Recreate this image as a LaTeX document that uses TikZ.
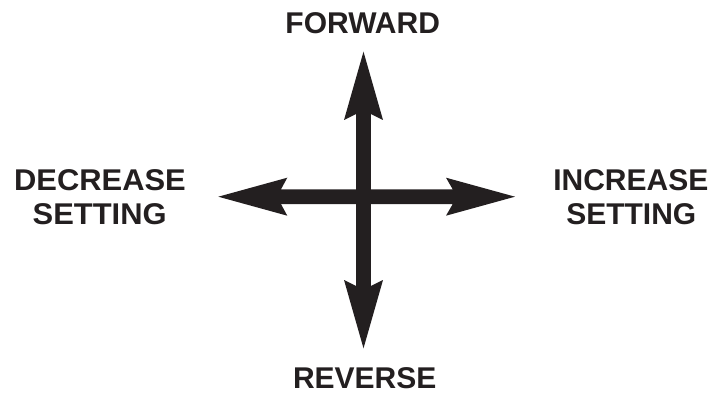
\documentclass[tikz,border=0pt]{standalone}
\usepackage{fontspec}
\setmainfont{Liberation Sans}
\definecolor{ink}{RGB}{35,31,32}
\begin{document}
\begin{tikzpicture}[x=1pt,y=-1pt,
  lbl/.style={font=\fontsize{30}{34}\selectfont\bfseries, text=ink, inner sep=0pt, anchor=base},
  crossfill/.style={fill=ink, draw=none}]
\useasboundingbox (0,0) rectangle (715,393);
% cross with four arrowheads
\fill[crossfill]
  (363.5,51.7) -- (383,120) -- (370.9,114) -- (370.9,189.3)
  -- (452.7,189.3) -- (446,177.7) -- (515,196.7) -- (446,215.7) -- (452.7,204.1)
  -- (370.9,204.1) -- (370.9,286) -- (383,280) -- (363.5,348.3) -- (344,280) -- (356.1,286)
  -- (356.1,204.1) -- (281,204.1) -- (287.3,215.7) -- (218.3,196.7) -- (287.3,177.7) -- (281,189.3)
  -- (356.1,189.3) -- (356.1,114) -- (344,120) -- cycle;
% labels
\node[lbl] (fwd) at (362.7,33.3) {FORWARD};
\node[lbl] (rev) at (364.7,388.5) {REVERSE};
\node[lbl, xscale=1.03] (dec1) at (100,190) {DECREASE};
\node[lbl, xscale=1.03] (dec2) at (99.7,224.3) {SETTING};
\node[lbl] (inc1) at (630.8,190.3) {INCREASE};
\node[lbl] (inc2) at (631.3,224.3) {SETTING};
\end{tikzpicture}
\end{document}
